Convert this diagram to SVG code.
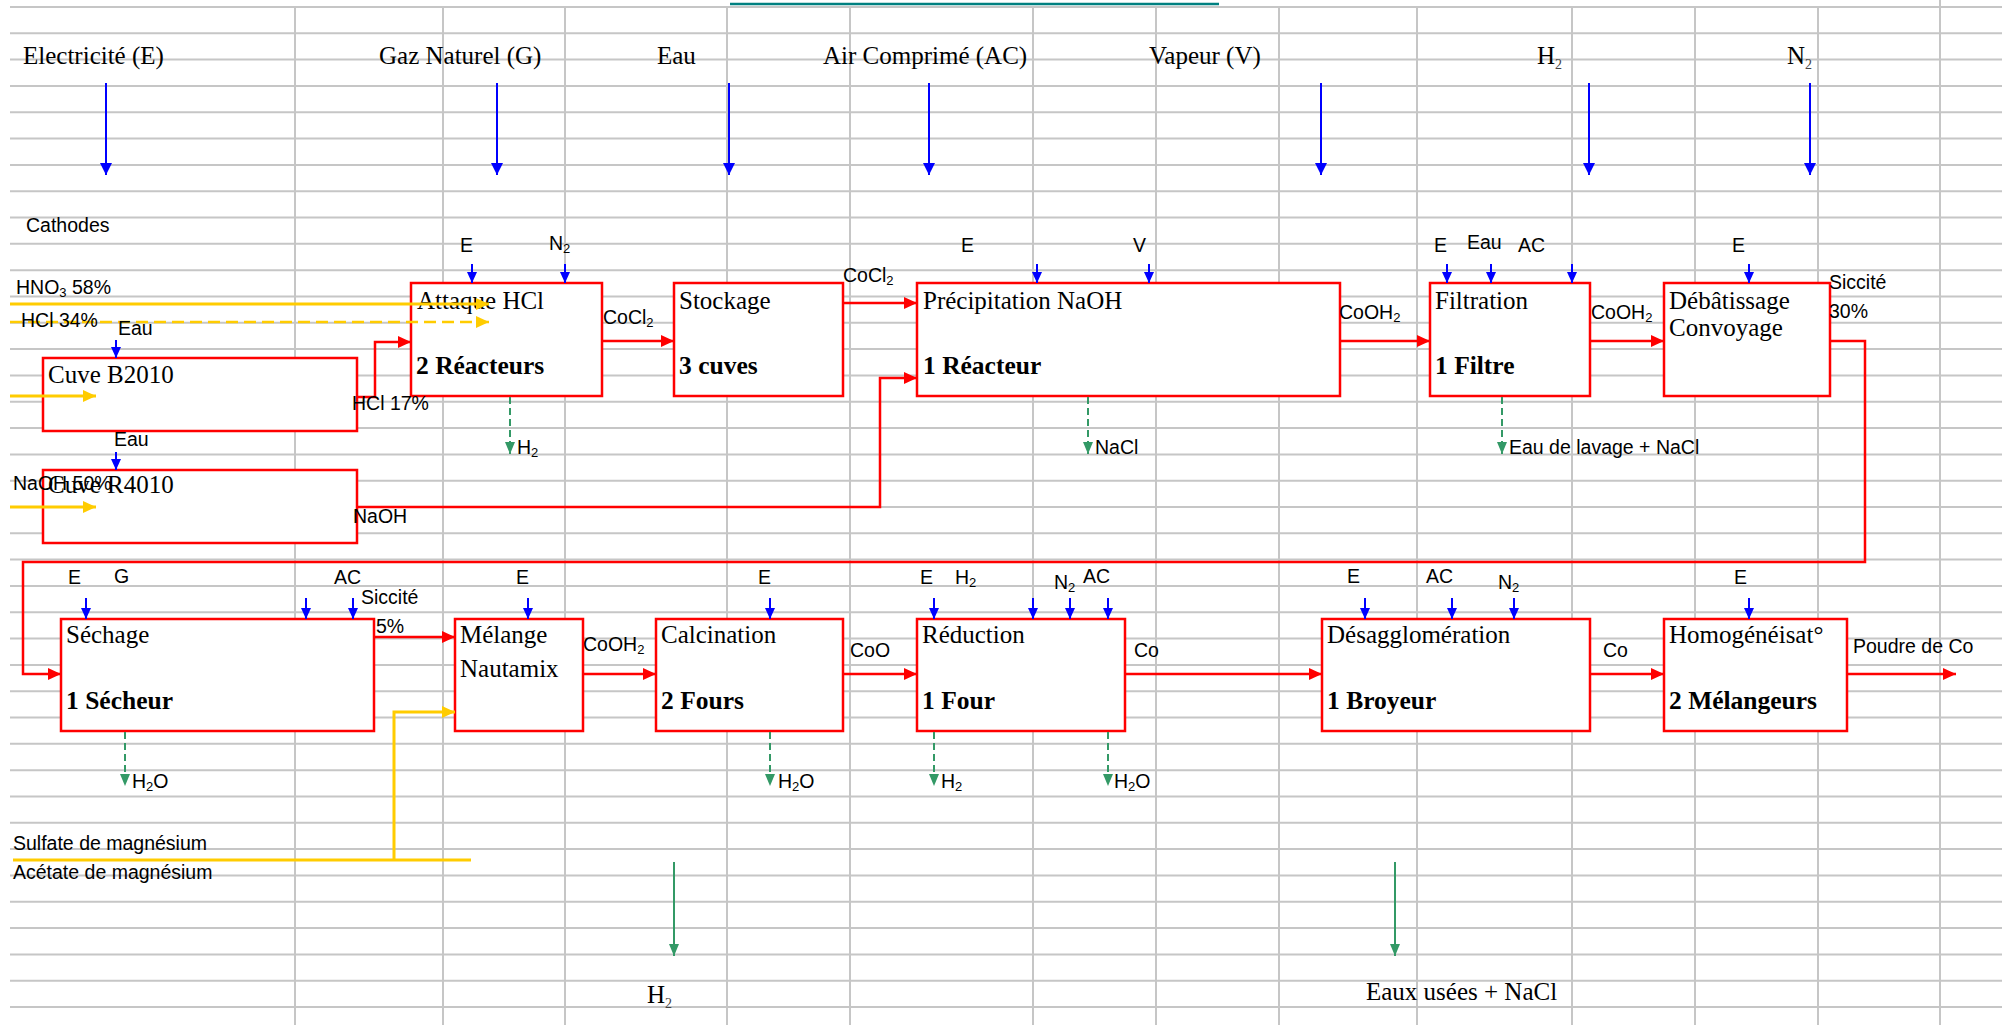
<svg xmlns="http://www.w3.org/2000/svg" width="2002" height="1025" viewBox="0 0 2002 1025">
<style>
.grid{stroke:#c6c6c6;stroke-width:2;fill:none}
.s{font-family:"Liberation Sans",Arial,sans-serif;font-size:19.5px;fill:#000}
.t{font-family:"Liberation Serif","Times New Roman",serif;font-size:25px;fill:#000}
.b{font-weight:bold;font-size:25.5px}
.box{fill:#fff;stroke:#ff0000;stroke-width:2.5}
.r{stroke:#ff0000;stroke-width:2.5;fill:none}
.bl{stroke:#0000ff;stroke-width:2;fill:none}
.gd{stroke:#339966;stroke-width:2;fill:none;stroke-dasharray:7,4}
.gs{stroke:#339966;stroke-width:2;fill:none}
.y{stroke:#ffcc00;stroke-width:3;fill:none}
.yd{stroke:#ffcc00;stroke-width:2.5;fill:none;stroke-dasharray:12,6}
</style>
<defs>
<marker id="mr" markerUnits="userSpaceOnUse" markerWidth="13" markerHeight="12" refX="13" refY="6" orient="auto"><path d="M0,0L13,6L0,12z" fill="#ff0000"/></marker>
<marker id="mb" markerUnits="userSpaceOnUse" markerWidth="12" markerHeight="12" refX="12" refY="6" orient="auto"><path d="M0,0L12,6L0,12z" fill="#0000ff"/></marker>
<marker id="mbs" markerUnits="userSpaceOnUse" markerWidth="11" markerHeight="10" refX="11" refY="5" orient="auto"><path d="M0,0L11,5L0,10z" fill="#0000ff"/></marker>
<marker id="mg" markerUnits="userSpaceOnUse" markerWidth="12" markerHeight="10" refX="12" refY="5" orient="auto"><path d="M0,0L12,5L0,10z" fill="#339966"/></marker>
<marker id="my" markerUnits="userSpaceOnUse" markerWidth="13" markerHeight="12" refX="13" refY="6" orient="auto"><path d="M0,0L13,6L0,12z" fill="#ffcc00"/></marker>
</defs>
<rect width="2002" height="1025" fill="#fff"/>
<g id="grid">
<path class="grid" d="M10,7H2002M10,33.3H2002M10,59.6H2002M10,86H2002M10,112.3H2002M10,138.6H2002M10,164.9H2002M10,191.2H2002M10,217.5H2002M10,243.8H2002M10,270.2H2002M10,296.5H2002M10,322.8H2002M10,349.1H2002M10,375.4H2002M10,401.7H2002M10,428.1H2002M10,454.4H2002M10,480.7H2002M10,507H2002M10,533.3H2002M10,559.6H2002M10,586H2002M10,612.3H2002M10,638.6H2002M10,664.9H2002M10,691.2H2002M10,717.5H2002M10,743.8H2002M10,770.2H2002M10,796.5H2002M10,822.8H2002M10,849.1H2002M10,875.4H2002M10,901.7H2002M10,928.1H2002M10,954.4H2002M10,980.7H2002M10,1007H2002"/>
<path class="grid" d="M295,7V1025M443,7V1025M565,7V1025M727,7V1025M850,7V1025M1033,7V1025M1156,7V1025M1279,7V1025M1417,7V1025M1572,7V1025M1695,7V1025M1818,7V1025M1940,0V1025"/>
</g>
<line x1="730" y1="4" x2="1219" y2="4" stroke="#008080" stroke-width="2.5"/>
<g id="sources">
<text class="t" x="23" y="64">Electricité (E)</text>
<text class="t" x="379" y="64">Gaz Naturel (G)</text>
<text class="t" x="657" y="64">Eau</text>
<text class="t" x="823" y="64">Air Comprimé (AC)</text>
<text class="t" x="1149" y="64">Vapeur (V)</text>
<text class="t" x="1537" y="64">H<tspan font-size="14" dy="5" fill="#444">2</tspan></text>
<text class="t" x="1787" y="64">N<tspan font-size="14" dy="5" fill="#444">2</tspan></text>
<text class="s" x="26" y="232">Cathodes</text>
</g>
<g id="n-attaque"><rect class="box" x="411" y="283" width="191" height="113"/><text class="t" x="417" y="309">Attaque HCl</text><text class="t b" x="416" y="374">2 Réacteurs</text></g>
<g id="n-stockage"><rect class="box" x="674" y="283" width="169" height="113"/><text class="t" x="679" y="309">Stockage</text><text class="t b" x="679" y="374">3 cuves</text></g>
<g id="n-precipitation"><rect class="box" x="917" y="283" width="423" height="113"/><text class="t" x="923" y="309">Précipitation NaOH</text><text class="t b" x="923" y="374">1 Réacteur</text></g>
<g id="n-filtration"><rect class="box" x="1430" y="283" width="160" height="113"/><text class="t" x="1435" y="309">Filtration</text><text class="t b" x="1435" y="374">1 Filtre</text></g>
<g id="n-debatissage"><rect class="box" x="1664" y="283" width="166" height="113"/><text class="t" x="1669" y="309">Débâtissage</text><text class="t" x="1669" y="336">Convoyage</text></g>
<g id="n-cuveB2010"><rect class="box" x="43" y="358" width="314" height="73"/><text class="t" x="48" y="383">Cuve B2010</text></g>
<g id="n-cuveR4010"><rect class="box" x="43" y="470" width="314" height="73"/><text class="t" x="48" y="493">Cuve R4010</text></g>
<g id="n-sechage"><rect class="box" x="61" y="619" width="313" height="112"/><text class="t" x="66" y="643">Séchage</text><text class="t b" x="66" y="709">1 Sécheur</text></g>
<g id="n-melange"><rect class="box" x="455" y="619" width="128" height="112"/><text class="t" x="460" y="643">Mélange</text><text class="t" x="460" y="677">Nautamix</text></g>
<g id="n-calcination"><rect class="box" x="656" y="619" width="187" height="112"/><text class="t" x="661" y="643">Calcination</text><text class="t b" x="661" y="709">2 Fours</text></g>
<g id="n-reduction"><rect class="box" x="917" y="619" width="208" height="112"/><text class="t" x="922" y="643">Réduction</text><text class="t b" x="922" y="709">1 Four</text></g>
<g id="n-desagglomeration"><rect class="box" x="1322" y="619" width="268" height="112"/><text class="t" x="1327" y="643">Désagglomération</text><text class="t b" x="1327" y="709">1 Broyeur</text></g>
<g id="n-homogeneisation"><rect class="box" x="1664" y="619" width="183" height="112"/><text class="t" x="1669" y="643">Homogénéisat°</text><text class="t b" x="1669" y="709">2 Mélangeurs</text></g>
<g id="connectors">
<g marker-end="url(#mr)">
<path class="r" d="M357,397H375V342H411"/>
<path class="r" d="M602,341H674"/>
<path class="r" d="M843,303H917"/>
<path class="r" d="M357,507H880V378H917"/>
<path class="r" d="M1340,341H1430"/>
<path class="r" d="M1590,341H1664"/>
<path class="r" d="M1830,341H1865V562H23V674H61"/>
<path class="r" d="M374,637H455"/>
<path class="r" d="M583,674H656"/>
<path class="r" d="M843,674H917"/>
<path class="r" d="M1125,674H1322"/>
<path class="r" d="M1590,674H1664"/>
<path class="r" d="M1847,674H1956"/>
</g>
<g marker-end="url(#my)">
<path class="y" d="M10,304H489"/>
<path class="yd" d="M10,322H489"/>
<path class="y" d="M10,396H96"/>
<path class="y" d="M10,507H96"/>
<path class="y" d="M394,860V712H455"/>
</g>
<path class="y" d="M13,860H471"/>
<g marker-end="url(#mb)">
<path class="bl" d="M106,83V175"/>
<path class="bl" d="M497,83V175"/>
<path class="bl" d="M729,83V175"/>
<path class="bl" d="M929,83V175"/>
<path class="bl" d="M1321,83V175"/>
<path class="bl" d="M1589,83V175"/>
<path class="bl" d="M1810,83V175"/>
</g>
<g marker-end="url(#mbs)">
<path class="bl" d="M472,264V283"/>
<path class="bl" d="M565,264V283"/>
<path class="bl" d="M1037,264V283"/>
<path class="bl" d="M1149,264V283"/>
<path class="bl" d="M1447,264V283"/>
<path class="bl" d="M1491,264V283"/>
<path class="bl" d="M1572,264V283"/>
<path class="bl" d="M1749,264V283"/>
<path class="bl" d="M116,340V358"/>
<path class="bl" d="M116,452V470"/>
<path class="bl" d="M86,598V619"/>
<path class="bl" d="M306,598V619"/>
<path class="bl" d="M353,598V619"/>
<path class="bl" d="M528,598V619"/>
<path class="bl" d="M770,598V619"/>
<path class="bl" d="M934,598V619"/>
<path class="bl" d="M1033,598V619"/>
<path class="bl" d="M1070,598V619"/>
<path class="bl" d="M1108,598V619"/>
<path class="bl" d="M1365,598V619"/>
<path class="bl" d="M1452,598V619"/>
<path class="bl" d="M1514,598V619"/>
<path class="bl" d="M1749,598V619"/>
</g>
<g marker-end="url(#mg)">
<path class="gd" d="M510,397V454"/>
<path class="gd" d="M1088,397V454"/>
<path class="gd" d="M1502,397V454"/>
<path class="gd" d="M125,732V786"/>
<path class="gd" d="M770,732V786"/>
<path class="gd" d="M934,732V786"/>
<path class="gd" d="M1108,732V786"/>
<path class="gs" d="M674,862V956"/>
<path class="gs" d="M1395,862V956"/>
</g>
</g>
<g id="labels">
<text class="s" x="16" y="294">HNO<tspan font-size="13" dy="3">3</tspan><tspan dy="-3"> 58%</tspan></text>
<text class="s" x="21" y="327">HCl 34%</text>
<text class="s" x="118" y="335">Eau</text>
<text class="s" x="114" y="446">Eau</text>
<text class="s" x="13" y="490">NaOH 50%</text>
<text class="s" x="352" y="410">HCl 17%</text>
<text class="s" x="353" y="523">NaOH</text>
<text class="s" x="603" y="324">CoCl<tspan font-size="13" dy="3">2</tspan></text>
<text class="s" x="843" y="282">CoCl<tspan font-size="13" dy="3">2</tspan></text>
<text class="s" x="1339" y="319">CoOH<tspan font-size="13" dy="3">2</tspan></text>
<text class="s" x="1591" y="319">CoOH<tspan font-size="13" dy="3">2</tspan></text>
<text class="s" x="1829" y="289">Siccité</text>
<text class="s" x="1829" y="318">30%</text>
<text class="s" x="460" y="252">E</text>
<text class="s" x="549" y="250">N<tspan font-size="13" dy="3">2</tspan></text>
<text class="s" x="961" y="252">E</text>
<text class="s" x="1133" y="252">V</text>
<text class="s" x="1434" y="252">E</text>
<text class="s" x="1467" y="249">Eau</text>
<text class="s" x="1518" y="252">AC</text>
<text class="s" x="1732" y="252">E</text>
<text class="s" x="517" y="454">H<tspan font-size="13" dy="3">2</tspan></text>
<text class="s" x="1095" y="454">NaCl</text>
<text class="s" x="1509" y="454">Eau de lavage + NaCl</text>
<text class="s" x="68" y="584">E</text>
<text class="s" x="114" y="583">G</text>
<text class="s" x="334" y="584">AC</text>
<text class="s" x="361" y="604">Siccité</text>
<text class="s" x="376" y="633">5%</text>
<text class="s" x="516" y="584">E</text>
<text class="s" x="758" y="584">E</text>
<text class="s" x="920" y="584">E</text>
<text class="s" x="955" y="584">H<tspan font-size="13" dy="3">2</tspan></text>
<text class="s" x="1054" y="589">N<tspan font-size="13" dy="3">2</tspan></text>
<text class="s" x="1083" y="583">AC</text>
<text class="s" x="1347" y="583">E</text>
<text class="s" x="1426" y="583">AC</text>
<text class="s" x="1498" y="589">N<tspan font-size="13" dy="3">2</tspan></text>
<text class="s" x="1734" y="584">E</text>
<text class="s" x="583" y="651">CoOH<tspan font-size="13" dy="3">2</tspan></text>
<text class="s" x="850" y="657">CoO</text>
<text class="s" x="1134" y="657">Co</text>
<text class="s" x="1603" y="657">Co</text>
<text class="s" x="1853" y="653">Poudre de Co</text>
<text class="s" x="132" y="788">H<tspan font-size="13" dy="3">2</tspan><tspan dy="-3">O</tspan></text>
<text class="s" x="778" y="788">H<tspan font-size="13" dy="3">2</tspan><tspan dy="-3">O</tspan></text>
<text class="s" x="941" y="788">H<tspan font-size="13" dy="3">2</tspan></text>
<text class="s" x="1114" y="788">H<tspan font-size="13" dy="3">2</tspan><tspan dy="-3">O</tspan></text>
<text class="s" x="13" y="850">Sulfate de magnésium</text>
<text class="s" x="13" y="879">Acétate de magnésium</text>
<text class="t" x="647" y="1003">H<tspan font-size="14" dy="5" fill="#444">2</tspan></text>
<text class="t" x="1366" y="1000">Eaux usées + NaCl</text>
</g>
</svg>
